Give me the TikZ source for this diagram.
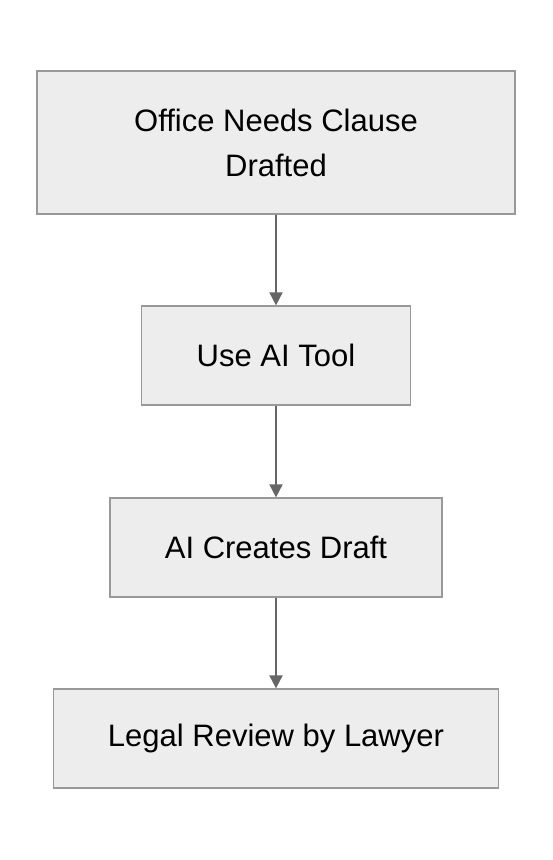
\documentclass[tikz,border=0pt]{standalone}
\usepackage{fontspec}
\setmainfont{Liberation Sans}
\usetikzlibrary{arrows.meta}
\begin{document}
\begin{tikzpicture}[x=1pt,y=-1pt,
  flowbox/.style={draw=black!40, fill=black!7, line width=1.3pt, inner sep=0pt,
    align=center, font=\fontsize{31}{45}\selectfont, text=black},
  flowarrow/.style={draw=black!60, line width=2pt,
    -{Triangle[length=13pt,width=13pt]}}]
\useasboundingbox (0,0) rectangle (552,860);
\node[flowbox, minimum width=478pt, minimum height=143pt] (b1) at (276,142.5) {Office Needs Clause\\Drafted};
\node[flowbox, minimum width=269pt, minimum height=99pt] (b2) at (276,355.5) {Use AI Tool};
\node[flowbox, minimum width=332pt, minimum height=99pt] (b3) at (276,547.5) {AI Creates Draft};
\node[flowbox, minimum width=445pt, minimum height=99pt] (b4) at (276,738.5) {Legal Review by Lawyer};
\draw[flowarrow] (b1.south) -- (b2.north);
\draw[flowarrow] (b2.south) -- (b3.north);
\draw[flowarrow] (b3.south) -- (b4.north);
\end{tikzpicture}
\end{document}
